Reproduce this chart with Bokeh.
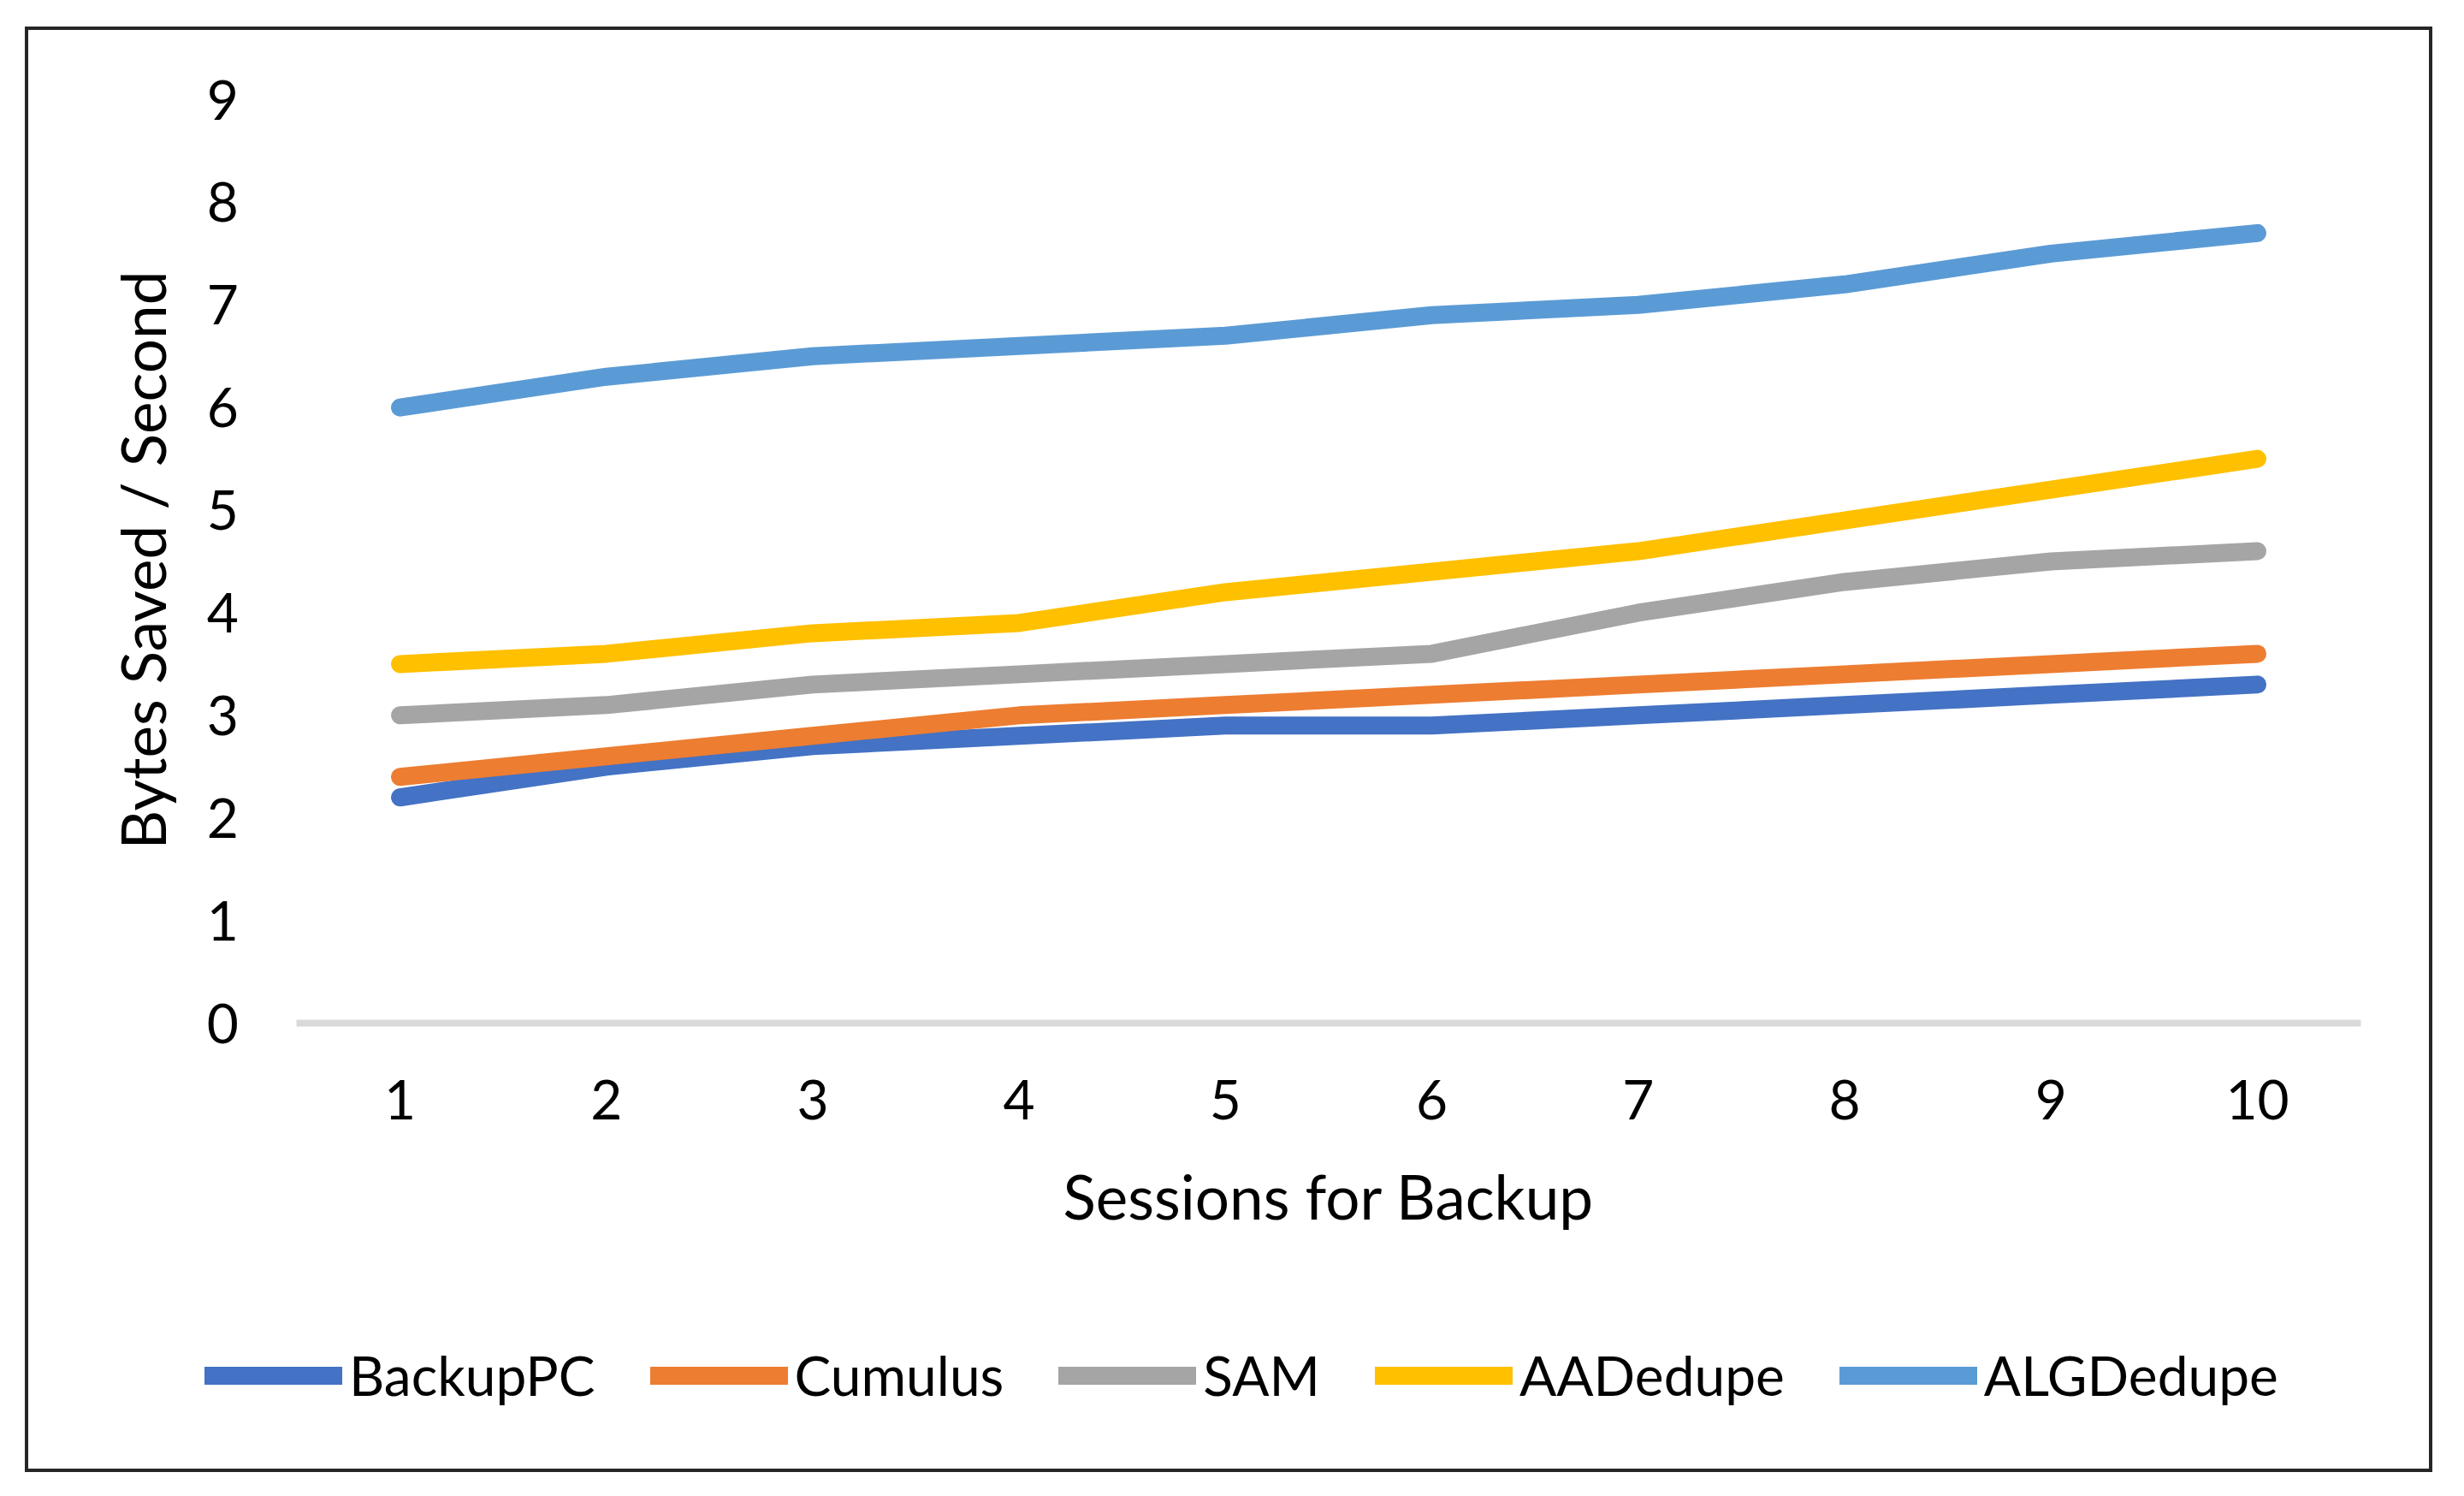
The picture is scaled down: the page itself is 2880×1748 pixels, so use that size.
from bokeh.plotting import figure
from bokeh.models import Range1d, FixedTicker, Legend, LegendItem, Title
from bokeh.embed import file_html
from bokeh.resources import INLINE

sessions = [1, 2, 3, 4, 5, 6, 7, 8, 9, 10]
series_names = ["BackupPC", "Cumulus", "SAM", "AADedupe", "ALGDedupe"]
backuppc = [2.2, 2.5, 2.7, 2.8, 2.9, 2.9, 3.0, 3.1, 3.2, 3.3]
cumulus = [2.4, 2.6, 2.8, 3.0, 3.1, 3.2, 3.3, 3.4, 3.5, 3.6]
sam = [3.0, 3.1, 3.3, 3.4, 3.5, 3.6, 4.0, 4.3, 4.5, 4.6]
aadedupe = [3.5, 3.6, 3.8, 3.9, 4.2, 4.4, 4.6, 4.9, 5.2, 5.5]
algdedupe = [6.0, 6.3, 6.5, 6.6, 6.7, 6.9, 7.0, 7.2, 7.5, 7.7]
colors = ["#4472C4", "#ED7D31", "#A5A5A5", "#FFC000", "#5B9BD5"]
y_ticks = [0, 1, 2, 3, 4, 5, 6, 7, 8, 9]

FONT = "Lato"
W, H = 2864, 1732

# outer chart border drawn as CSS background behind a transparent canvas border
bc = "#262626"
g = "linear-gradient(%s,%s)" % (bc, bc)
bx0, by0, bx1, by1, bw = 29, 31, 2843, 1720, 4
border_css = ", ".join([
    "%s %dpx %dpx / %dpx %dpx no-repeat" % (g, bx0, by0, bx1 - bx0, bw),
    "%s %dpx %dpx / %dpx %dpx no-repeat" % (g, bx0, by1 - bw, bx1 - bx0, bw),
    "%s %dpx %dpx / %dpx %dpx no-repeat" % (g, bx0, by0, bw, by1 - by0),
    "%s %dpx %dpx / %dpx %dpx no-repeat" % (g, bx1 - bw, by0, bw, by1 - by0),
    "white",
])

# frame in pixels (frame is extended so that the legend sits inside it)
FL, FR, FT, FB = 210, 2800, 40, 1700
# pixel anchors of the data area
px_x1, px_x10 = 467, 2638
px_y0, px_y9 = 1195, 116
sx = (px_x10 - px_x1) / 9.0
sy = (px_y0 - px_y9) / 9.0
x_start = 1 - (px_x1 - FL) / sx
x_end = 10 + (FR - px_x10) / sx
y_start = -(FB - px_y0) / sy
y_end = 9 + (px_y9 - FT) / sy

p = figure(width=W, height=H, output_backend="svg", toolbar_location=None,
           x_range=Range1d(x_start, x_end), y_range=Range1d(y_start, y_end),
           min_border_left=FL, min_border_right=W - FR,
           min_border_top=FT, min_border_bottom=H - FB,
           styles={"background": border_css})
p.outline_line_color = None
p.grid.grid_line_color = None
p.background_fill_color = "white"
p.border_fill_alpha = 0

xa = p.xaxis[0]
ya = p.yaxis[0]
xa.fixed_location = 0
ya.fixed_location = 0.5
xa.bounds = (0.5, 10.5)
xa.ticker = FixedTicker(ticks=sessions)
ya.ticker = FixedTicker(ticks=y_ticks)
for ax in (xa, ya):
    ax.major_tick_line_color = None
    ax.minor_tick_line_color = None
    ax.major_label_text_font = FONT
    ax.major_label_text_font_size = "64px"
    ax.major_label_text_color = "#000000"
    ax.axis_label_text_font = FONT
    ax.axis_label_text_font_size = "71px"
    ax.axis_label_text_font_style = "normal"
    ax.axis_label_text_color = "#000000"
ya.axis_line_color = None
xa.axis_line_color = "#D9D9D9"
xa.axis_line_width = 8
xa.axis_label = "Sessions for Backup"
ya.major_label_standoff = 62
xa.major_label_standoff = 60
xa.axis_label_standoff = 44

# y title: starts (bottom end) at about y=992px, as in the reference
ytitle = Title(text="Bytes Saved / Second", align="left",
               offset=FB - 992, standoff=3,
               text_font=FONT, text_font_size="71px",
               text_font_style="normal", text_color="#000000")
p.add_layout(ytitle, "left")

all_series = [backuppc, cumulus, sam, aadedupe, algdedupe]
items = []
for name, vals, col in zip(series_names, all_series, colors):
    r = p.line(sessions, vals, line_width=21, line_color=col,
               line_cap="round", line_join="round")
    items.append(LegendItem(label=name, renderers=[r]))

legend = Legend(items=items, orientation="horizontal",
                location=(239 - FL, 55),
                glyph_width=161, glyph_height=40, label_standoff=8,
                spacing=64, padding=0, margin=0,
                label_text_font=FONT, label_text_font_size="64px",
                label_text_color="#000000",
                border_line_color=None, background_fill_alpha=0)
p.add_layout(legend, "center")

open("out.html", "w").write(file_html(p, INLINE))
